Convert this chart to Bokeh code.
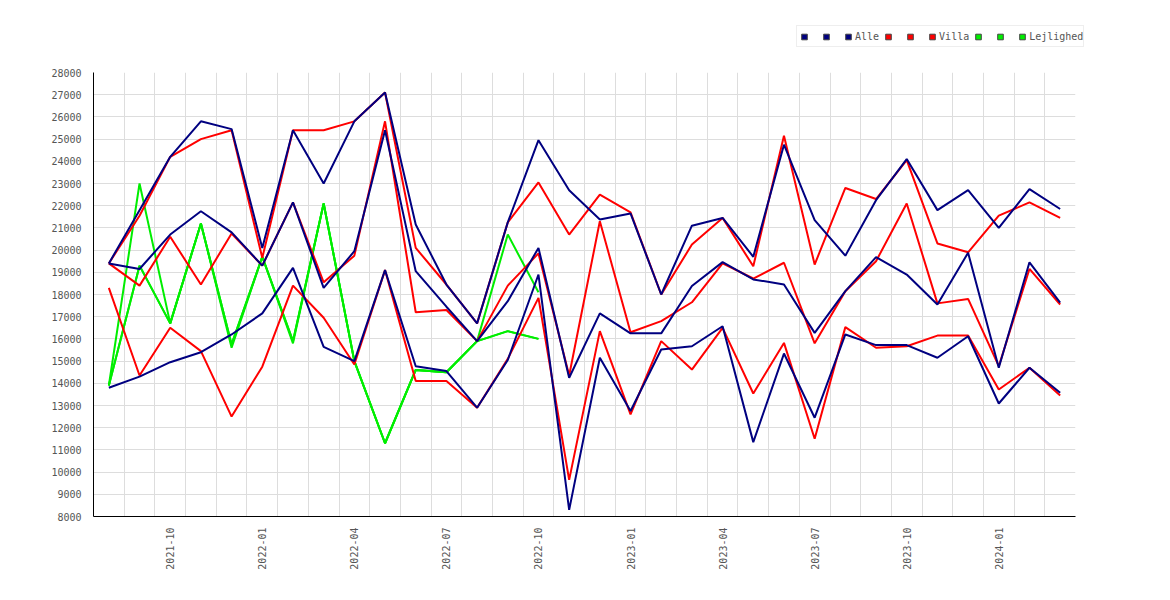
import math
from bokeh.plotting import figure
from bokeh.layouts import column
from bokeh.models import FixedTicker, Legend, LegendItem
from bokeh.embed import file_html
from bokeh.resources import INLINE

months = ["2021-08", "2021-09", "2021-10", "2021-11", "2021-12",
          "2022-01", "2022-02", "2022-03", "2022-04", "2022-05", "2022-06",
          "2022-07", "2022-08", "2022-09", "2022-10", "2022-11", "2022-12",
          "2023-01", "2023-02", "2023-03", "2023-04", "2023-05", "2023-06",
          "2023-07", "2023-08", "2023-09", "2023-10", "2023-11", "2023-12",
          "2024-01", "2024-02", "2024-03"]

tick_months = ["2021-10", "2022-01", "2022-04", "2022-07", "2022-10",
               "2023-01", "2023-04", "2023-07", "2023-10", "2024-01"]

y_ticks = list(range(8000, 28001, 1000))

alle_hi = [19400, 21800, 24200, 25800, 25450, 20100, 25400, 23000, 25800, 27100,
           21150, 18450, 16700, 21250, 24950, 22700, 21380, 21650, 18000, 21100,
           21450, 19700, 24750, 21350, 19750, 22250, 24100, 21800, 22700, 21000,
           22750, 21850]
alle_mid = [19400, 19150, 20700, 21750, 20800, 19300, 22150, 18300, 19950, 25400,
            19050, 17450, 15900, 17700, 20100, 14250, 17150, 16250, 16250, 18380,
            19460, 18680, 18450, 16270, 18150, 19680, 18900, 17550, 19880, 14700,
            19450, 17630]
alle_lo = [13800, 14300, 14950, 15400, 16200, 17150, 19200, 15640, 15000, 19100,
           14770, 14550, 12900, 15050, 18900, 8300, 15150, 12750, 15520, 15670,
           16570, 11350, 15340, 12450, 16200, 15720, 15720, 15150, 16120, 13090,
           14700, 13570]

villa_hi = [19400, 21550, 24200, 25000, 25400, 19650, 25400, 25400, 25800, 27100,
            20100, 18450, 16700, 21250, 23050, 20700, 22500, 21700, 18000, 20250,
            21450, 19270, 25150, 19350, 22800, 22300, 24050, 20300, 19900, 21550,
            22150, 21450]
villa_mid = [19400, 18400, 20600, 18450, 20750, 19300, 22150, 18550, 19750, 25800,
             17200, 17300, 15900, 18400, 19850, 14350, 21300, 16300, 16800, 17650,
             19400, 18720, 19430, 15800, 18150, 19500, 22100, 17600, 17800, 14770,
             19150, 17550]
villa_lo = [18300, 14350, 16500, 15450, 12500, 14750, 18400, 16950, 14850, 19100,
            14100, 14100, 12900, 15100, 17850, 9650, 16350, 12600, 15900, 14620,
            16500, 13540, 15820, 11500, 16530, 15600, 15670, 16150, 16150, 13720,
            14700, 13450]

lejl_hi = [13900, 23000, 16700, 21200, 15600, 19700, 15800, 22100, 15000, 11300,
           14600, 14500, 15900, 20700, 18100]
lejl_mid = [13900, 19300, 16700, 21200, 15750, 19700, 15900, 22100, 15000, 11300,
            14600, 14500, 15900, 16350, 16000]
lejl_lo = [13900, 19300, 16700, 21200, 15750, 19700, 15900, 22100, 15000, 11300,
           14600, 14500, 15900, 16350, 16000]

series = [
    ("Lejlighed", "#00ee00", [lejl_hi, lejl_mid, lejl_lo]),
    ("Villa", "#ff0000", [villa_hi, villa_mid, villa_lo]),
    ("Alle", "#000080", [alle_hi, alle_mid, alle_lo]),
]
legend_order = ["Alle", "Villa", "Lejlighed"]

FONT = "DejaVu Sans Mono"
TXT = "#555555"
LEFT = 93

x_all = list(range(len(months)))

# ---------- legend strip ----------
lf = figure(frame_width=1060, frame_height=62, x_range=(0, 1), y_range=(0, 1),
            output_backend="svg", toolbar_location=None,
            min_border_left=LEFT, min_border_right=0, min_border_top=0,
            min_border_bottom=0)
lf.axis.visible = False
lf.grid.visible = False
lf.outline_line_color = None

# swatch renderers: their single point lies outside the visible range
swatches = {}
for name, color, arrs in series:
    swatches[name] = [lf.scatter(x=[-5], y=[-5], marker="square", size=6,
                                 fill_color=color, line_color="#444444",
                                 line_width=1) for _ in arrs]

items = []
for name in legend_order:
    rs = swatches[name]
    for k, r in enumerate(rs):
        lbl = name if k == len(rs) - 1 else " "
        items.append(LegendItem(label=lbl, renderers=[r]))

legend = Legend(items=items, orientation="horizontal", location=(703, 15),
                glyph_width=14, glyph_height=15, label_standoff=0, spacing=2,
                padding=0, margin=0, label_height=20, label_width=6,
                border_line_color="#dddddd", border_line_width=1,
                background_fill_color="white", background_fill_alpha=1,
                label_text_font=FONT, label_text_font_size="10px",
                label_text_color=TXT)
lf.add_layout(legend, "center")

# ---------- main chart ----------
p = figure(frame_width=982, frame_height=444,
           x_range=(-0.5, len(months) - 0.5), y_range=(y_ticks[0], y_ticks[-1]),
           output_backend="svg", toolbar_location=None,
           min_border_left=LEFT, min_border_top=10, min_border_right=60,
           min_border_bottom=70)
p.outline_line_color = None
p.background_fill_color = "white"
p.border_fill_color = "white"

for name, color, arrs in series:
    for arr in arrs:
        p.line(x_all[:len(arr)], arr, line_color=color, line_width=2)

tick_pos = [months.index(m) for m in tick_months]
p.xaxis.ticker = FixedTicker(ticks=tick_pos)
p.xaxis.major_label_overrides = {pos: m for pos, m in zip(tick_pos, tick_months)}
p.xaxis.major_label_orientation = math.pi / 2
p.yaxis.ticker = FixedTicker(ticks=y_ticks)

for ax in (p.xaxis, p.yaxis):
    ax.major_tick_line_color = None
    ax.minor_tick_line_color = None
    ax.axis_line_color = "black"
    ax.axis_line_width = 1
    ax.major_label_text_font = FONT
    ax.major_label_text_font_size = "10px"
    ax.major_label_text_color = TXT
p.xaxis.major_label_standoff = 5
p.yaxis.major_label_standoff = 6

p.xgrid.ticker = FixedTicker(ticks=[i - 0.5 for i in range(len(months) + 1)])
p.ygrid.ticker = FixedTicker(ticks=y_ticks)
p.xgrid.grid_line_color = "#dddddd"
p.ygrid.grid_line_color = "#dddddd"
p.xgrid.grid_line_width = 1
p.ygrid.grid_line_width = 1

layout = column(lf, p, spacing=0)
open("out.html", "w").write(file_html(layout, INLINE))
